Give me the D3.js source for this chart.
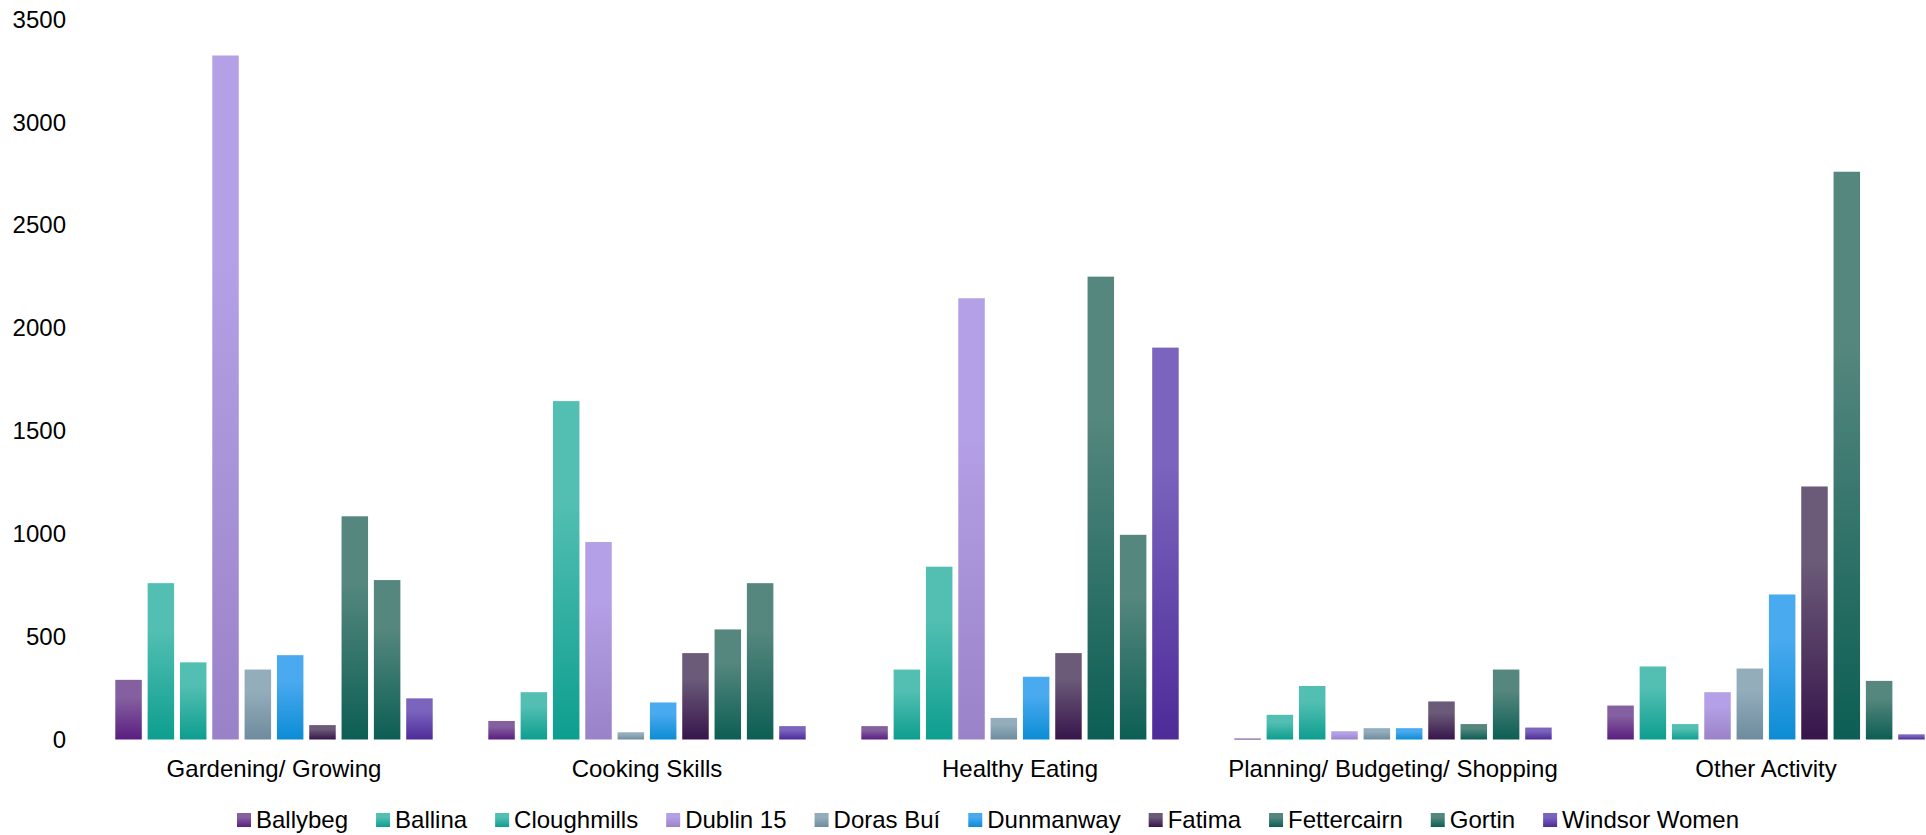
<!DOCTYPE html>
<html>
<head>
<meta charset="utf-8">
<script src="https://cdn.jsdelivr.net/npm/d3@7"></script>
<style>
  body { margin: 0; background: #ffffff; }
  svg { display: block; font-family: "Liberation Sans", Arial, sans-serif; }
  .tick text { fill: #000; font-size: 24px; }
</style>
</head>
<body>
<div id="chart"></div>
<script>
// categories on the x axis
var categories = ['Gardening/ Growing', 'Cooking Skills', 'Healthy Eating', 'Planning/ Budgeting/ Shopping', 'Other Activity'];

// one series per group
var seriesNames = ['Ballybeg', 'Ballina', 'Cloughmills', 'Dublin 15', 'Doras Buí', 'Dunmanway', 'Fatima', 'Fettercairn', 'Gortin', 'Windsor Women'];

// values, one array per series, in category order
var ballybeg     = [290, 90, 65, 5, 165];
var ballina      = [760, 230, 340, 120, 355];
var cloughmills  = [375, 1645, 840, 260, 75];
var dublin15     = [3325, 960, 2145, 40, 230];
var dorasBui     = [340, 35, 105, 55, 345];
var dunmanway    = [410, 180, 305, 55, 705];
var fatima       = [70, 420, 420, 185, 1230];
var fettercairn  = [1085, 535, 2250, 75, 2760];
var gortin       = [775, 760, 995, 340, 285];
var windsorWomen = [200, 65, 1905, 58, 25];

var seriesValues = [ballybeg, ballina, cloughmills, dublin15, dorasBui, dunmanway, fatima, fettercairn, gortin, windsorWomen];

// y tick labels
var yTicks = [0, 500, 1000, 1500, 2000, 2500, 3000, 3500];

// gradient colours (top, bottom) per series
var topColors    = ['#8560a0', '#52bfb2', '#52bfb2', '#b4a0e6', '#93adbb', '#4aaaf0', '#6b5a78', '#55877e', '#55877e', '#7a64be'];
var bottomColors = ['#5a1e80', '#0d9e8f', '#0d9e8f', '#9a82c8', '#6e8c9e', '#0c8cd4', '#37154b', '#0c5e54', '#0c5e54', '#4e2b98'];

var width = 1926;
var height = 835;

var svg = d3.select('#chart').append('svg')
    .attr('width', width)
    .attr('height', height);

var defs = svg.append('defs');
seriesNames.forEach(function(name, i) {
    var grad = defs.append('linearGradient')
        .attr('id', 'grad' + i)
        .attr('x1', 0).attr('y1', 0)
        .attr('x2', 0).attr('y2', 1);
    grad.append('stop').attr('offset', '0%').attr('stop-color', topColors[i]);
    grad.append('stop').attr('offset', '30%').attr('stop-color', topColors[i]);
    grad.append('stop').attr('offset', '100%').attr('stop-color', bottomColors[i]);
});

// scales
var x0 = d3.scaleBand()
    .domain(categories)
    .range([87.5, 1952.5])
    .padding(0);

var x1 = d3.scaleBand()
    .domain(seriesNames)
    .range([0, x0.bandwidth()])
    .paddingInner(0.18)
    .paddingOuter(0.86);

var y = d3.scaleLinear()
    .domain([0, 3500])
    .range([739.5, 19.5]);

// y axis (labels only)
var yAxis = svg.append('g')
    .attr('transform', 'translate(66,0)')
    .call(d3.axisLeft(y).tickValues(yTicks).tickFormat(d3.format('d')).tickSize(0).tickPadding(0));
yAxis.select('.domain').remove();
yAxis.selectAll('text').style('font-family', '"Liberation Sans", Arial, sans-serif');

// x axis (labels only)
var xAxis = svg.append('g')
    .attr('transform', 'translate(0,' + y(0) + ')')
    .call(d3.axisBottom(x0).tickSize(0).tickPadding(20));
xAxis.select('.domain').remove();
xAxis.selectAll('text').style('font-family', '"Liberation Sans", Arial, sans-serif');

// bars
var groups = svg.selectAll('.group')
    .data(categories)
    .enter()
    .append('g')
    .attr('class', 'group')
    .attr('transform', function(d) { return 'translate(' + x0(d) + ',0)'; });

groups.selectAll('rect')
    .data(function(d, ci) {
        return seriesNames.map(function(name, si) {
            return { name: name, index: si, value: seriesValues[si][ci] };
        });
    })
    .enter()
    .append('rect')
    .attr('x', function(d) { return x1(d.name); })
    .attr('y', function(d) { return y(d.value); })
    .attr('width', x1.bandwidth())
    .attr('height', function(d) { return y(0) - y(d.value); })
    .attr('fill', function(d) { return 'url(#grad' + d.index + ')'; });

// legend
var legend = svg.append('g').attr('class', 'legend');
var lx = 237;
seriesNames.forEach(function(name, i) {
    legend.append('rect')
        .attr('x', lx)
        .attr('y', 813)
        .attr('width', 14)
        .attr('height', 14)
        .attr('fill', 'url(#grad' + i + ')');
    var t = legend.append('text')
        .attr('x', lx + 19)
        .attr('y', 828)
        .attr('font-size', 24)
        .attr('fill', '#000')
        .text(name);
    lx = lx + 19 + t.node().getComputedTextLength() + 28;
});
</script>
</body>
</html>
